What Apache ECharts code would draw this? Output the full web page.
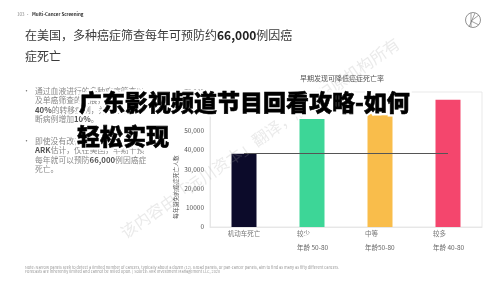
<!DOCTYPE html>
<html><head><meta charset="utf-8">
<script src="https://cdn.jsdelivr.net/npm/echarts@6/dist/echarts.min.js"></script>
<style>html,body{margin:0;padding:0;background:#fff}#c{width:499px;height:281px}</style>
</head><body><div id="c"></div>
<script>
// ---- data ----
const categories = ['机动车死亡', '较少', '中等', '较多'];
const ageRanges = ['', '年龄 50-80', '年龄50-80', '年龄 40-80'];
const deathsAvoided = [38000, 56000, 60000, 66000];
const referenceLineValue = 38000;
const yTickLabels = ['0', '10000', '20,000', '30,000', '40,000', '50,000', '60,000', '70,000'];
const barColors = ['#0c0b2a', '#3dd697', '#f9bd4b', '#f4466d'];
const chartTitle = '早期发现可降低癌症死亡率';
const yAxisName = '每年避免的癌症死亡人数';
const bullet1 = ['通过血液进行的多种癌症筛查以', '及单癌筛查的发展，将减少约', '{b|40%}的转移病例，并使癌症诊', '断病例增加{b|10%}。'];
const bullet2 = ['即使没有改善治疗方法，据', '{b|ARK}估计，仅在美国，早期干预', '每年就可以预防{b|66,000}例因癌症', '死亡。'];
const footerLines = [
  'Note: Narrow panels seek to detect a limited number of cancers, typically about a dozen (12). Broad panels, or pan-cancer panels, aim to find as many as fifty different cancers.',
  'Forecasts are inherently limited and cannot be relied upon. | Source: ARK Investment Management LLC, 2020'
];
const overlayLines = ['广东影视频道节目回看攻略-如何', '轻松实现'];

const FONT = '"Noto Sans CJK SC", "Noto Sans", sans-serif';
const chart = echarts.init(document.getElementById('c'), null, {renderer: 'canvas'});

function richLines(lines) {
  return lines.map(function (s) { return '{n|' + s.replace(/\{b\|([^}]*)\}/g, '}{b|$1}{n|') + '}'; }).join('\n');
}
const bulletRich = {
  n: {fontSize: 7.8, fill: '#8a8a8a', lineHeight: 9.4, fontFamily: FONT},
  b: {fontSize: 7.8, fontWeight: 'bold', fill: '#555', lineHeight: 9.4, fontFamily: FONT}
};

const overlayGraphics = [];
[[79, 102], [77, 136]].forEach(function (p, i) {
  overlayGraphics.push({type: 'text', x: p[0], y: p[1], z: 30, silent: true, style: {
    text: overlayLines[i], font: '900 23px ' + FONT, fill: '#fff', stroke: '#fff', lineWidth: 5, align: 'left', verticalAlign: 'middle'}});
  overlayGraphics.push({type: 'text', x: p[0], y: p[1], z: 31, silent: true, style: {
    text: overlayLines[i], font: '900 23px ' + FONT, fill: '#000', stroke: '#000', lineWidth: 0.6, align: 'left', verticalAlign: 'middle'}});
});

const option = {
  backgroundColor: '#fff',
  animation: false,
  textStyle: {fontFamily: FONT},
  grid: {left: 210, right: 17, top: 92, bottom: 54, show: true, borderColor: '#e3e3e3', borderWidth: 0.8, containLabel: false},
  xAxis: {
    type: 'category',
    data: categories,
    axisLine: {lineStyle: {color: '#e3e3e3', width: 0.8}},
    axisTick: {show: false},
    axisLabel: {
      interval: 0,
      margin: 1,
      formatter: function (v, i) {
        if (!ageRanges[i]) return '{c|' + v + '}';
        return '{a|' + v + '}\n{b|' + ageRanges[i] + '}';
      },
      rich: {
        a: {fontSize: 6.5, color: '#777', lineHeight: 12, width: 30, align: 'left', fontFamily: FONT},
        b: {fontSize: 6.5, color: '#666', lineHeight: 16, width: 30, align: 'left', fontFamily: FONT},
        c: {fontSize: 6.5, color: '#777', lineHeight: 12, fontFamily: FONT}
      }
    }
  },
  yAxis: {
    type: 'value',
    min: 0, max: 70000, interval: 10000,
    axisLine: {show: true, lineStyle: {color: '#e3e3e3', width: 0.8}},
    axisTick: {show: false},
    splitLine: {show: false},
    axisLabel: {
      fontSize: 6.5, color: '#555', margin: 6,
      formatter: function (v) { return yTickLabels[Math.round(v / 10000)]; }
    }
  },
  series: [
    {
      type: 'line', data: [], z: 1, silent: true,
      markLine: {
        symbol: 'none', silent: true, label: {show: false},
        lineStyle: {color: '#555', width: 1, type: 'solid'},
        data: [[{coord: [categories[0], referenceLineValue]}, {coord: [categories[categories.length - 1], referenceLineValue]}]]
      }
    },
    {
      type: 'bar', z: 3, barWidth: 25,
      data: deathsAvoided.map(function (v, i) { return {value: v, itemStyle: {color: barColors[i]}}; })
    }
  ],
  graphic: [
    // header
    {type: 'text', left: 17, top: 12, z: 10, style: {text: '103 •', font: '4.5px ' + FONT, fill: '#888'}},
    {type: 'text', left: 32, top: 12, z: 10, style: {text: 'Multi-Cancer Screening', font: 'bold 4.5px ' + FONT, fill: '#333'}},
    // headline
    {type: 'text', left: 25, top: 29, z: 10, style: {
      text: '{n|在美国，多种癌症筛查每年可预防约}{k|66,000}{n|例因癌}\n{n|症死亡}',
      rich: {
        n: {fontSize: 12, fill: '#3a3a3a', lineHeight: 21, fontFamily: FONT},
        k: {fontSize: 12, fontWeight: 'bold', fill: '#222', lineHeight: 21, fontFamily: FONT}
      }
    }},
    // bullets
    {type: 'text', left: 23, top: 87, z: 10, style: {text: '•', font: '7px ' + FONT, fill: '#777'}},
    {type: 'text', left: 35, top: 87, z: 10, style: {text: richLines(bullet1), rich: bulletRich}},
    {type: 'text', left: 23, top: 137, z: 10, style: {text: '•', font: '7px ' + FONT, fill: '#777'}},
    {type: 'text', left: 35, top: 137, z: 10, style: {text: richLines(bullet2), rich: bulletRich}},
    // chart title
    {type: 'text', x: 342, y: 78, z: 10, style: {text: chartTitle, font: '7px ' + FONT, fill: '#555', align: 'center', verticalAlign: 'middle'}},
    // y axis name
    {type: 'text', x: 176, y: 187, rotation: Math.PI / 2, z: 10, style: {text: yAxisName, font: '5.8px ' + FONT, fill: '#555', align: 'center', verticalAlign: 'middle'}},
    // footer
    {type: 'text', left: 25, top: 265, z: 10, style: {text: footerLines.join('\n'), font: '3.9px ' + FONT, fill: '#9a9a9a', lineHeight: 4.4}},
    // logo
    {type: 'circle', z: 10, shape: {cx: 473, cy: 20, r: 7.5}, style: {fill: 'none', stroke: '#777', lineWidth: 0.8}},
    {type: 'line', z: 10, shape: {x1: 469, y1: 27, x2: 475, y2: 13}, style: {stroke: '#777', lineWidth: 0.7}},
    {type: 'line', z: 10, shape: {x1: 471, y1: 13, x2: 471, y2: 27}, style: {stroke: '#777', lineWidth: 0.7}},
    {type: 'line', z: 10, shape: {x1: 471, y1: 21, x2: 479, y2: 15}, style: {stroke: '#777', lineWidth: 0.7}},
    {type: 'line', z: 10, shape: {x1: 471, y1: 21, x2: 479, y2: 25}, style: {stroke: '#777', lineWidth: 0.7}},
    // watermark
    {type: 'text', x: 260, y: 138, rotation: 0.61, z: 20, silent: true, style: {
      text: '该内容由「远川资本」翻译，版权归原机构所有', font: '16px "Noto Sans CJK SC", serif', fill: 'rgba(160,160,160,0.22)', align: 'center', verticalAlign: 'middle'}}
  ].concat(overlayGraphics)
};
chart.setOption(option);
</script>
</body></html>
